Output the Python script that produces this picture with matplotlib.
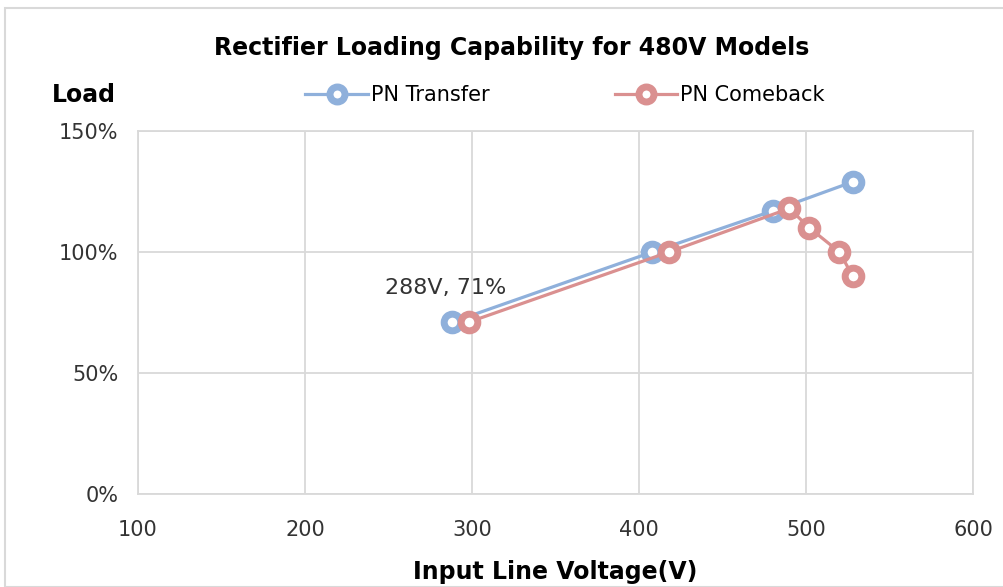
import matplotlib
matplotlib.use("Agg")
import matplotlib.pyplot as plt
from matplotlib.patches import Rectangle
from matplotlib.ticker import FuncFormatter

plt.rcParams['font.family'] = ['DejaVu Sans']

transfer_v = [288, 408, 480, 528]
transfer_load = [71, 100, 117, 129]
comeback_v = [298, 418, 490, 502, 520, 528]
comeback_load = [71, 100, 118, 110, 100, 90]
x_ticks = [100, 200, 300, 400, 500, 600]
y_ticks = [0, 50, 100, 150]

blue = '#8fb0db'
red = '#da9090'

fig = plt.figure(figsize=(10.04, 5.87), dpi=100)
fig.patches.append(Rectangle((5/1004, 0), 1.2, 1 - 8/587, transform=fig.transFigure,
                             fill=False, edgecolor='#d9d9d9', linewidth=1.5))
ax = fig.add_axes([138/1004, 1 - 494/587, (973-138)/1004, (494-131)/587])

mk = dict(marker='o', markersize=12, markerfacecolor='white', markeredgewidth=5, linewidth=2.3)
l1, = ax.plot(transfer_v, transfer_load, color=blue, markeredgecolor=blue, label='PN Transfer', zorder=3, **mk)
l2, = ax.plot(comeback_v, comeback_load, color=red, markeredgecolor=red, label='PN Comeback', zorder=4, **mk)

ax.set_xlim(100, 600)
ax.set_ylim(0, 150)
ax.set_xticks(x_ticks)
ax.set_yticks(y_ticks)
ax.yaxis.set_major_formatter(FuncFormatter(lambda v, p: f"{int(v)}%"))
ax.grid(True, color='#d9d9d9', linewidth=1.3)
ax.set_axisbelow(True)
for s in ax.spines.values():
    s.set_color('#d9d9d9')
    s.set_linewidth(1.3)
ax.tick_params(length=0, labelsize=15, colors='#333333')
ax.tick_params(axis='y', pad=14)
ax.tick_params(axis='x', pad=19)

ax.annotate(f"{transfer_v[0]}V, {transfer_load[0]}%", (transfer_v[0], transfer_load[0]),
            xytext=(-48, 24.5), textcoords='offset points', fontsize=16, color='#333333',
            ha='left', va='center')

ax.set_xlabel('Input Line Voltage(V)', fontsize=17, fontweight='bold', labelpad=14)
fig.text(512/1004, 1 - 48/587, 'Rectifier Loading Capability for 480V Models',
         ha='center', va='center', fontsize=17, fontweight='bold')
fig.text(52/1004, 1 - 95/587, 'Load', ha='left', va='center', fontsize=17, fontweight='bold')

fig.legend(handles=[l1, l2], loc='center', bbox_to_anchor=(565/1004, 1 - 95/587), ncol=2,
           frameon=False, fontsize=15, columnspacing=6.0, handlelength=3.0, handletextpad=0.15,
           markerscale=0.9)

fig.savefig('out.png', dpi=100)
